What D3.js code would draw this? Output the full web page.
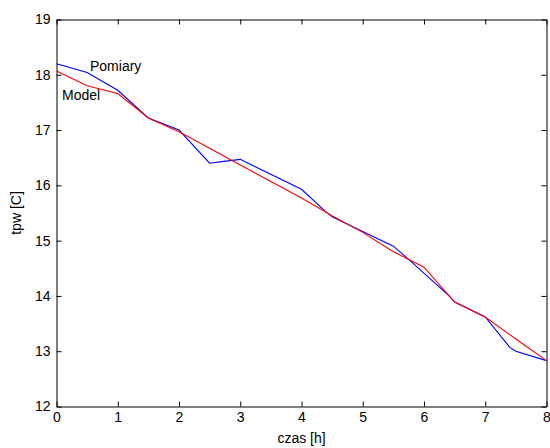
<!DOCTYPE html>
<html>
<head>
<meta charset="utf-8">
<script src="https://cdn.jsdelivr.net/npm/d3@7"></script>
<style>
  html, body { margin: 0; padding: 0; background: #fff; }
  svg { display: block; }
  text { font-family: "Liberation Sans", Arial, sans-serif; font-size: 14px; fill: #000; }
</style>
</head>
<body>
<svg id="chart" width="550" height="448"></svg>
<script>
// pomiary (niebieski)
const pomiaryT = [0, 0.5, 1, 1.5, 2, 2.5, 2.7, 3, 4, 4.4, 4.5, 5.5, 5.75, 6.4, 6.5, 7, 7.4, 7.5, 8];
const pomiaryV = [18.2, 18.04, 17.72, 17.22, 17.0, 16.4, 16.43, 16.47, 15.93, 15.52, 15.43, 14.9, 14.66, 14.01, 13.89, 13.62, 13.07, 13.0, 12.83];

// model (czerwony)
const modelT = [0, 0.5, 1, 1.5, 2, 2.5, 3, 3.5, 4, 4.5, 5, 5.5, 6, 6.5, 7, 7.5, 8];
const modelV = [18.07, 17.8, 17.66, 17.22, 16.97, 16.67, 16.37, 16.07, 15.77, 15.45, 15.15, 14.8, 14.52, 13.89, 13.62, 13.22, 12.83];

const xTicks = [0, 1, 2, 3, 4, 5, 6, 7, 8];
const yTicks = [12, 13, 14, 15, 16, 17, 18, 19];

const svg = d3.select("#chart");
const mLeft = 56.5, mRight = 546.5, mTop = 19.5, mBottom = 406.5;

const x = d3.scaleLinear().domain([0, 8]).range([mLeft, mRight]);
const y = d3.scaleLinear().domain([12, 19]).range([mBottom, mTop]);
const fmt = d3.format("d");

// osie z ticks do środka
svg.append("g")
  .attr("transform", `translate(0,${mBottom})`)
  .call(d3.axisBottom(x).tickValues(xTicks).tickFormat(fmt).tickSizeInner(-5).tickSizeOuter(0).tickPadding(6));
svg.append("g")
  .attr("transform", `translate(0,${mTop})`)
  .call(d3.axisTop(x).tickValues(xTicks).tickSizeInner(-5).tickSizeOuter(0).tickFormat(""));
svg.append("g")
  .attr("transform", `translate(${mLeft},0)`)
  .call(d3.axisLeft(y).tickValues(yTicks).tickFormat(fmt).tickSizeInner(-5).tickSizeOuter(0).tickPadding(6));
svg.append("g")
  .attr("transform", `translate(${mRight},0)`)
  .call(d3.axisRight(y).tickValues(yTicks).tickSizeInner(-5).tickSizeOuter(0).tickFormat(""));

svg.selectAll(".tick text").style("font-size", "14px").style("font-family", "'Liberation Sans', Arial, sans-serif");
svg.selectAll(".domain, .tick line").attr("stroke", "#000");

const line = d3.line().x(d => x(d[0])).y(d => y(d[1]));

svg.append("path")
  .datum(pomiaryT.map((t, i) => [t, pomiaryV[i]]))
  .attr("d", line)
  .attr("fill", "none")
  .attr("stroke", "#0000ff")
  .attr("stroke-width", 1.1);

svg.append("path")
  .datum(modelT.map((t, i) => [t, modelV[i]]))
  .attr("d", line)
  .attr("fill", "none")
  .attr("stroke", "#ff0000")
  .attr("stroke-width", 1.1);

// podpisy serii
svg.append("text").attr("x", 90).attr("y", 71).text("Pomiary");
svg.append("text").attr("x", 62).attr("y", 100).text("Model");

// etykiety osi
svg.append("text")
  .attr("x", (mLeft + mRight) / 2)
  .attr("y", 443)
  .attr("text-anchor", "middle")
  .text("czas [h]");
svg.append("text")
  .attr("transform", `translate(21,${(mTop + mBottom) / 2}) rotate(-90)`)
  .attr("text-anchor", "middle")
  .text("tpw [C]");
</script>
</body>
</html>
